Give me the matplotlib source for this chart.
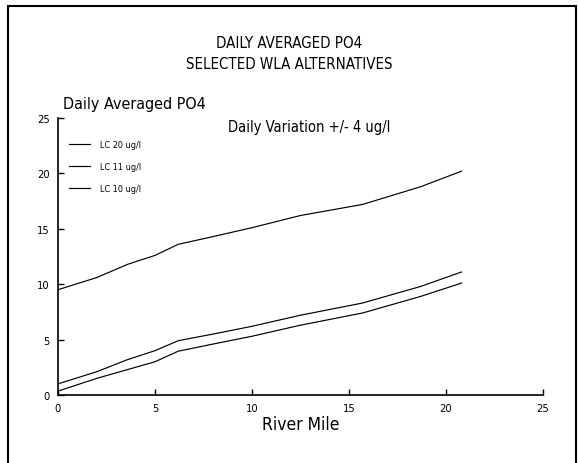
import matplotlib.pyplot as plt
from matplotlib.patches import Rectangle

plt.rcParams['font.family'] = ['DejaVu Sans']
plt.rcParams['font.stretch'] = 'condensed'

# river mile stations and daily averaged PO4 (ug/l)
mile = [0, 2, 3.6, 5, 6.2, 8, 10, 12.5, 15.7, 18.7, 20.8]
lc20 = [9.5, 10.6, 11.8, 12.6, 13.6, 14.3, 15.1, 16.2, 17.2, 18.8, 20.2]
lc11 = [1.0, 2.1, 3.2, 4.0, 4.9, 5.5, 6.2, 7.2, 8.3, 9.8, 11.1]
lc10 = [0.35, 1.5, 2.3, 3.0, 3.95, 4.6, 5.3, 6.3, 7.4, 8.9, 10.1]
labels = ['LC 20 ug/l', 'LC 11 ug/l', 'LC 10 ug/l']
ticks = [0, 5, 10, 15, 20, 25]

fig = plt.figure(figsize=(5.78, 4.64), dpi=100)
ax = fig.add_axes([0.1003, 0.1466, 0.8391, 0.5969])

for ys, lab in zip([lc20, lc11, lc10], labels):
    ax.plot(mile, ys, color='black', lw=0.85, label=lab)

ax.set_xlim(0, 25)
ax.set_ylim(0, 25)
ax.set_xticks(ticks)
ax.set_yticks(ticks)
ax.tick_params(direction='in', length=4, width=1, labelsize=8, pad=6)
for s in ['top', 'right']:
    ax.spines[s].set_visible(False)
for s in ['left', 'bottom']:
    ax.spines[s].set_linewidth(1.2)

ax.set_xlabel('River Mile', fontsize=12.5, labelpad=1)
ax.text(0.01, 1.025, 'Daily Averaged PO4', transform=ax.transAxes,
        fontsize=11.5, ha='left', va='bottom')
ax.text(0.35, 0.97, 'Daily Variation +/- 4 ug/l', transform=ax.transAxes,
        fontsize=10.5, ha='left', va='center')

leg = ax.legend(loc='upper left', bbox_to_anchor=(0.016, 0.932), frameon=False,
                fontsize=6.5, handlelength=2.3, handletextpad=1.1,
                labelspacing=1.4, borderaxespad=0)

fig.text(0.5, 0.907, 'DAILY AVERAGED PO4', ha='center', va='center', fontsize=10.8)
fig.text(0.5, 0.862, 'SELECTED WLA ALTERNATIVES', ha='center', va='center', fontsize=10.8)

# outer frame of the scanned page
fig.patches.append(Rectangle((0.013, -0.05), 0.983, 1.035, transform=fig.transFigure,
                             fill=False, edgecolor='black', lw=1.5))

fig.savefig('out.png', dpi=100)
